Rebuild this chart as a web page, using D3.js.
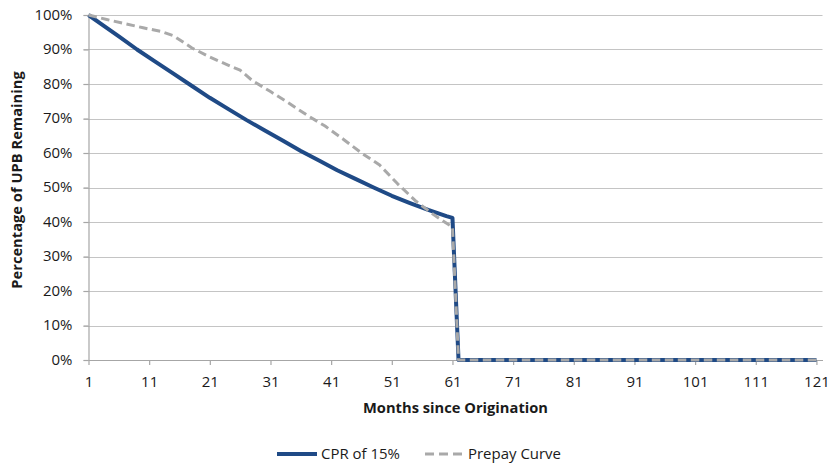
<!DOCTYPE html>
<html>
<head>
<meta charset="utf-8">
<script src="https://cdn.jsdelivr.net/npm/d3@7"></script>
<style>
  html, body { margin: 0; padding: 0; background: #ffffff; }
  svg { display: block; }
  text { font-family: "Open Sans", "DejaVu Sans", sans-serif; fill: #1a1a1a; }
</style>
</head>
<body>
<svg id="chart" width="834" height="465"></svg>
<script>
// ---- data ----
const cprMonths   = [1, 3, 6, 9, 12, 15, 18, 21, 24, 27, 30, 33, 36, 39, 42, 45, 48, 51, 54, 57, 60, 61, 62, 121];
const cprValues   = [100, 97.5, 93.8, 90, 86.5, 83, 79.5, 76, 72.8, 69.6, 66.6, 63.6, 60.6, 57.8, 55, 52.5, 50, 47.6, 45.5, 43.5, 41.7, 41.2, 0, 0];
const prepayMonths = [1, 4, 7, 10, 13, 15, 18, 21, 24, 26, 28, 31, 34, 37, 40, 43, 46, 49, 52, 55, 58, 61, 62, 121];
const prepayValues = [100, 98.7, 97.5, 96.3, 95.2, 94, 90.5, 87.8, 85.5, 84, 81, 77.8, 74.5, 71, 67.8, 64, 60, 56.5, 51, 46, 42, 38.5, 0, 0];
const xTickValues = [1, 11, 21, 31, 41, 51, 61, 71, 81, 91, 101, 111, 121];
const yTickValues = [0, 10, 20, 30, 40, 50, 60, 70, 80, 90, 100];
const seriesNames = ["CPR of 15%", "Prepay Curve"];
const xTitle = "Months since Origination";
const yTitle = "Percentage of UPB Remaining";

// ---- layout ----
const svg = d3.select("#chart");
const plotLeft = 88.5, plotRight = 822.5, plotTop = 15, plotBottom = 360;
const textScale = 1.07;

const x = d3.scaleLinear().domain([1, 122]).range([plotLeft, plotRight]);
const y = d3.scaleLinear().domain([0, 100]).range([plotBottom, plotTop]);

const gridColor = "#c4c4c4";
const axisColor = "#a6a6a6";
const blue = "#1f4a86";
const gray = "#a9a9a9";

// gridlines
svg.append("g").selectAll("line").data(yTickValues).join("line")
  .attr("x1", plotLeft - 5).attr("x2", plotRight)
  .attr("y1", d => Math.round(y(d)) + 0.5).attr("y2", d => Math.round(y(d)) + 0.5)
  .attr("stroke", gridColor).attr("stroke-width", 1.2);

// y axis
const yAxis = svg.append("g").attr("transform", `translate(${plotLeft},0)`)
  .call(d3.axisLeft(y).tickValues(yTickValues).tickFormat(d => d + "%")
        .tickSizeInner(5).tickSizeOuter(0).tickPadding(10));
yAxis.select(".domain").attr("stroke", axisColor).attr("stroke-width", 1.2);
yAxis.selectAll(".tick line").attr("stroke", axisColor).attr("stroke-width", 1.2);
yAxis.selectAll("text").attr("font-size", 14).attr("font-family", null)
  .attr("transform", `scale(${textScale},1)`).attr("fill", "#1a1a1a");

// x axis
const xAxis = svg.append("g").attr("transform", `translate(0,${plotBottom})`)
  .call(d3.axisBottom(x).tickValues(xTickValues).tickFormat(d3.format("d"))
        .tickSizeInner(5).tickSizeOuter(0).tickPadding(12));
xAxis.select(".domain").attr("stroke", axisColor).attr("stroke-width", 1.2);
xAxis.selectAll(".tick line").attr("stroke", axisColor).attr("stroke-width", 1.2);
xAxis.selectAll("text").attr("font-size", 14).attr("font-family", null)
  .attr("transform", `scale(${textScale},1)`).attr("fill", "#1a1a1a");

// lines
const line = d3.line().x(d => x(d[0])).y(d => y(d[1]));
const cprData = cprMonths.map((m, i) => [m, cprValues[i]]);
const prepayData = prepayMonths.map((m, i) => [m, prepayValues[i]]);

svg.append("path").datum(cprData).attr("d", line)
  .attr("fill", "none").attr("stroke", blue).attr("stroke-width", 4)
  .attr("stroke-linejoin", "round");
svg.append("path").datum(prepayData).attr("d", line)
  .attr("fill", "none").attr("stroke", gray).attr("stroke-width", 3)
  .attr("stroke-dasharray", "8.5,4.5").attr("stroke-linejoin", "round");

// axis titles
svg.append("text").attr("transform", `translate(${(plotLeft + plotRight) / 2},413) scale(1.05,1)`)
  .attr("text-anchor", "middle").attr("font-size", 14).attr("font-weight", "bold")
  .attr("fill", "#000").text(xTitle);
svg.append("text").attr("transform", "translate(22,180) rotate(-90) scale(1.05,1)")
  .attr("text-anchor", "middle").attr("font-size", 14).attr("font-weight", "bold")
  .attr("fill", "#000").text(yTitle);

// legend
const legend = svg.append("g");
legend.append("line").attr("x1", 277).attr("x2", 317).attr("y1", 454).attr("y2", 454)
  .attr("stroke", blue).attr("stroke-width", 4);
legend.append("text").attr("transform", `translate(321,459) scale(${textScale},1)`)
  .attr("font-size", 14).text(seriesNames[0]);
legend.append("line").attr("x1", 425).attr("x2", 462).attr("y1", 454).attr("y2", 454)
  .attr("stroke", gray).attr("stroke-width", 3).attr("stroke-dasharray", "9,5");
legend.append("text").attr("transform", `translate(468,459) scale(${textScale},1)`)
  .attr("font-size", 14).text(seriesNames[1]);
</script>
</body>
</html>
